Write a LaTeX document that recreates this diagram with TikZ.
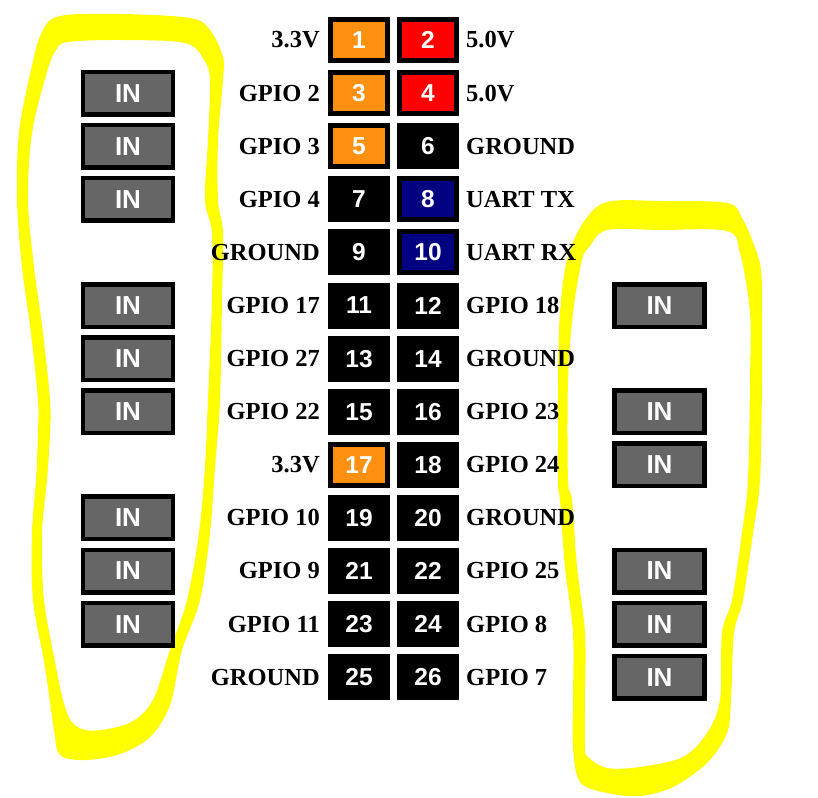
\documentclass[tikz,border=0pt]{standalone}
\usepackage{fontspec}
\setmainfont{Liberation Serif}
\newfontfamily\pinfont{Liberation Sans}
\definecolor{pinorange}{HTML}{FF9010}
\definecolor{pinred}{HTML}{FF0000}
\definecolor{pinnavy}{HTML}{000080}
\definecolor{pinblack}{HTML}{000000}
\definecolor{ingray}{HTML}{666666}
\definecolor{marker}{HTML}{FFFF00}
\tikzset{
  pinbox/.style={draw=black, line width=5pt, minimum width=57pt, minimum height=41pt, inner sep=0pt, text=white, font=\pinfont\bfseries\fontsize{24.5}{24.5}\selectfont},
  lbl/.style={inner sep=0pt, font=\bfseries\fontsize{24.5}{24.5}\selectfont},
  inbox/.style={draw=black, fill=ingray, line width=4.5pt, minimum width=90pt, minimum height=42.5pt, inner sep=0pt, text=white, font=\pinfont\bfseries\fontsize{26}{26}\selectfont},
  markerloop/.style={fill=marker, even odd rule}
}
\begin{document}
\begin{tikzpicture}[x=1pt,y=-1pt]
\useasboundingbox (0,0) rectangle (818,797);
% left highlight loop (marker stroke as a filled ring)
\fill[markerloop]
 plot[smooth cycle, tension=0.55] coordinates {
  (60,16) (120,14) (190,18) (210,30) (223,57) (223,80) (218,140) (218,200) (223,233)
  (222,300) (220,400) (215,467) (210,533) (200,600) (182,650) (170,705) (150,737)
  (120,754) (85,760) (60,755) (54,730) (45,667) (33,600) (32,533) (36,480) (38,433)
  (38,400) (31,333) (22,267) (17,200) (19,133) (31,70) (42,32)}
 plot[smooth cycle, tension=0.55] coordinates {
  (68,42) (120,40) (185,43) (204,60) (210,80) (208,140) (205,200) (212,233) (212,300)
  (208,400) (205,467) (199,533) (187,600) (170,650) (153,700) (133,721) (108,729)
  (85,730) (71,721) (63,700) (56,667) (44,600) (42,533) (47,480) (50,433) (50,400)
  (43,333) (34,267) (28,200) (32,133) (47,72) (56,50)};
% right highlight loop
\fill[markerloop]
 plot[smooth cycle, tension=0.55] coordinates {
  (607,202) (660,201) (727,203) (742,218) (754,245) (761,270) (762,313) (762,380)
  (760,480) (753,533) (743,600) (734,633) (731,700) (727,733) (707,763) (673,787)
  (640,796) (607,793) (580,782) (573,747) (573,700) (573,633) (565,567) (560,500)
  (558,480) (558,380) (560,313) (567,260) (583,223)}
 plot[smooth cycle, tension=0.55] coordinates {
  (607,230) (660,230) (727,231) (740,253) (750,313) (750,380) (748,480) (742,533)
  (732,600) (722,633) (720,700) (707,733) (683,757) (640,767) (607,768) (588,757)
  (585,747) (585,700) (585,633) (577,567) (572,500) (568,480) (568,380) (573,313)
  (582,260) (590,246)};
% header pins and labels
\foreach \r/\a/\b/\ca/\cb/\la/\lb in {
  1/1/2/pinorange/pinred/3.3V/5.0V,
  2/3/4/pinorange/pinred/GPIO 2/5.0V,
  3/5/6/pinorange/pinblack/GPIO 3/GROUND,
  4/7/8/pinblack/pinnavy/GPIO 4/UART TX,
  5/9/10/pinblack/pinnavy/GROUND/UART RX,
  6/11/12/pinblack/pinblack/GPIO 17/GPIO 18,
  7/13/14/pinblack/pinblack/GPIO 27/GROUND,
  8/15/16/pinblack/pinblack/GPIO 22/GPIO 23,
  9/17/18/pinorange/pinblack/3.3V/GPIO 24,
  10/19/20/pinblack/pinblack/GPIO 10/GROUND,
  11/21/22/pinblack/pinblack/GPIO 9/GPIO 25,
  12/23/24/pinblack/pinblack/GPIO 11/GPIO 8,
  13/25/26/pinblack/pinblack/GROUND/GPIO 7}{
  \node[pinbox, fill=\ca] (p\a) at (359,{40+53.1*(\r-1)}) {\a};
  \node[pinbox, fill=\cb] (p\b) at (428,{40+53.1*(\r-1)}) {\b};
  \node[lbl, anchor=east] (lab\a) at (320,{40+53.1*(\r-1)}) {\la};
  \node[lbl, anchor=west] (lab\b) at (466,{40+53.1*(\r-1)}) {\lb};
}
% input boxes
\foreach \r in {2,3,4,6,7,8,10,11,12}
  \node[inbox] (inL\r) at (128,{40+53.1*(\r-1)}) {IN};
\foreach \r in {6,8,9,11,12,13}
  \node[inbox] (inR\r) at (659.5,{40+53.1*(\r-1)}) {IN};
\end{tikzpicture}
\end{document}
